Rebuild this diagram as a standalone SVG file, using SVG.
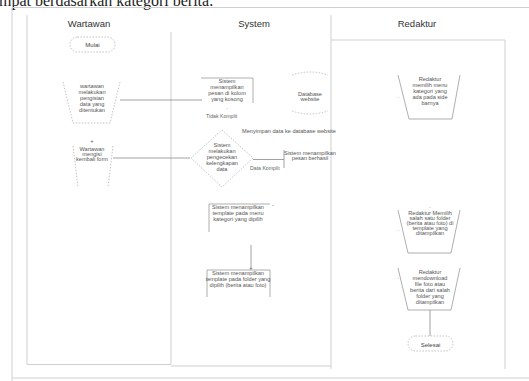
<svg xmlns="http://www.w3.org/2000/svg" width="529" height="381" viewBox="0 0 529 381">
<style>
.lane{stroke:#cfcfcf;stroke-width:1;fill:none}
.sh{stroke:#9a9a9a;stroke-width:0.8;fill:#fff}
.dash{stroke:#a8a8a8;stroke-width:0.7;fill:#fff;stroke-dasharray:1.5 1.5}
.open{stroke:#9a9a9a;stroke-width:0.8;fill:none}
.conn{stroke:#8a8a8a;stroke-width:0.8;fill:none}
.hd{font-family:"Liberation Sans",Arial,sans-serif;font-size:9.5px;fill:#333;text-anchor:middle}
.t{font-family:"Liberation Sans",Arial,sans-serif;font-size:5.6px;fill:#555;text-anchor:middle}
.tl{font-family:"Liberation Sans",Arial,sans-serif;font-size:5.2px;fill:#666}
.tm{font-family:"Liberation Sans",Arial,sans-serif;font-size:6px;fill:#444;text-anchor:middle}
</style>
<rect width="529" height="381" fill="#fff"/>
<text x="-1" y="6" font-family="Liberation Serif,serif" font-size="16" fill="#222">mpat berdasarkan kategori berita.</text>
<g id="frame">
<path class="lane" d="M12 381 V7.5 H529"/>
<path class="lane" d="M12 378 H529" stroke="#eee"/>
<path class="lane" d="M27 15 V364.5 H171 V32"/>
<path class="lane" d="M171 366 H331"/>
<path class="lane" d="M331 15 V369"/>
<path class="lane" d="M331 40 H505 V369"/>
<text class="hd" x="89" y="27">Wartawan</text>
<text class="hd" x="254" y="27">System</text>
<text class="hd" x="417" y="27">Redaktur</text>
</g>
<g id="connectors">
<path class="conn" d="M120 100 H202"/>
<path class="conn" d="M113 158 H190" stroke="#e2e2e2"/>
<path class="conn" d="M253 159.5 H284 M284 150 V168"/>
<path class="conn" d="M251 245 V268" stroke="#bbb"/>
<path class="conn" d="M430 310 V336" stroke="#555"/>
</g>
<g id="mulai">
<rect class="dash" x="70" y="37" width="45" height="15" rx="7.5"/>
<text class="tm" x="92.5" y="47">Mulai</text>
</g>
<g id="wartawan-isi">
<path class="dash" d="M63 82 L73 123 H110 L120 82"/>
<text class="t"><tspan x="92" y="88">wartawan</tspan><tspan x="92" y="94">melakukan</tspan><tspan x="92" y="100">pengisian</tspan><tspan x="92" y="106">data yang</tspan><tspan x="92" y="112">ditentukan</tspan></text>
</g>
<g id="wartawan-kembali">
<path class="dash" d="M73 146 L78 187 M113 146 L108 187"/>
<text class="t" x="92" y="143" font-size="4">+</text>
<text class="t" font-size="4.8"><tspan x="92" y="151">Wartawan</tspan><tspan x="92" y="156">mengisi</tspan><tspan x="92" y="161">kembali form</tspan></text>
</g>
<g id="sistem-pesan-kosong">
<path class="open" d="M201 78 H253 V103"/>
<text class="t"><tspan x="227" y="83">Sistem</tspan><tspan x="227" y="89">menampilkan</tspan><tspan x="227" y="95">pesan di kolom</tspan><tspan x="227" y="101">yang kosong</tspan></text>
<text class="t" x="227" y="109" font-size="4">.</text>
</g>
<text class="tl" x="206" y="118">Tidak Komplit</text>
<g id="database">
<path class="dash" d="M292 75 Q310 69 328 75" fill="none"/>
<path class="dash" d="M292 111 Q310 117 328 111" fill="none"/>
<text class="t"><tspan x="310" y="96">Database</tspan><tspan x="310" y="101">website</tspan></text>
</g>
<text class="t" x="289" y="133" font-size="5">Menyimpan data ke database website</text>
<g id="cek">
<path class="dash" d="M222 130 L253 158 L222 187 L191 158 Z"/>
<text class="t"><tspan x="222" y="147">Sistem</tspan><tspan x="222" y="153">melakukan</tspan><tspan x="222" y="159">pengecekan</tspan><tspan x="222" y="165">kelengkapan</tspan><tspan x="222" y="171">data</tspan></text>
</g>
<text class="tl" x="250" y="170">Data Komplit</text>
<g id="pesan-berhasil">
<text class="t" font-size="5"><tspan x="310" y="155">Sistem menampilkan</tspan><tspan x="310" y="160">pesan berhasil</tspan></text>
</g>
<g id="sistem-template-kategori">
<path class="open" d="M209 232 V204 H270"/>
<text class="t" font-size="5.2"><tspan x="238" y="209">Sistem menampilkan</tspan><tspan x="238" y="215">template pada menu</tspan><tspan x="238" y="221">kategori yang dipilih</tspan></text>
<text class="t" x="273" y="207" font-size="4">-</text>
</g>
<g id="sistem-template-folder">
<path class="open" d="M207 297 V270 H270 V297"/>
<text class="t" x="251" y="270" font-size="4">+</text>
<text class="t" font-size="5.4" fill="#444"><tspan x="238" y="275">Sistem menampilkan</tspan><tspan x="238" y="281">template pada folder yang</tspan><tspan x="238" y="287">dipilih (berita atau foto)</tspan></text>
</g>
<g id="redaktur-menu">
<path class="open" d="M398 75 L409 119 H452 L460 75"/>
<text class="t" x="398" y="98" font-size="4">.</text>
<text class="t"><tspan x="430" y="81">Redaktur</tspan><tspan x="430" y="87">memilih menu</tspan><tspan x="430" y="93">kategori yang</tspan><tspan x="430" y="99">ada pada side</tspan><tspan x="430" y="105">barnya</tspan></text>
</g>
<g id="redaktur-folder">
<path class="open" d="M398 210 L408 253 H451 L460 210"/>
<text class="t" x="398" y="231" font-size="4">.</text>
<text class="t" x="430" y="208" font-size="4">.</text>
<text class="t" font-size="4.8"><tspan x="430" y="215">Redaktur Memilih</tspan><tspan x="430" y="220">salah satu folder</tspan><tspan x="430" y="225">(berita atau foto) di</tspan><tspan x="430" y="230">template yang</tspan><tspan x="430" y="235">ditampilkan</tspan></text>
</g>
<g id="redaktur-download">
<path class="open" d="M398 268 L408 310 H451 L460 268"/>
<text class="t" x="398" y="279" font-size="4">.</text>
<text class="t" font-size="5.2"><tspan x="430" y="274">Redaktur</tspan><tspan x="430" y="280">mendownload</tspan><tspan x="430" y="286">file foto atau</tspan><tspan x="430" y="292">berita dari salah</tspan><tspan x="430" y="298">folder yang</tspan><tspan x="430" y="304">ditampilkan</tspan></text>
</g>
<g id="selesai">
<rect class="dash" x="408" y="336" width="45" height="15" rx="7.5"/>
<text class="tm" x="430.5" y="346.5" font-size="9" fill="#333">Selesai</text>
</g>
</svg>
